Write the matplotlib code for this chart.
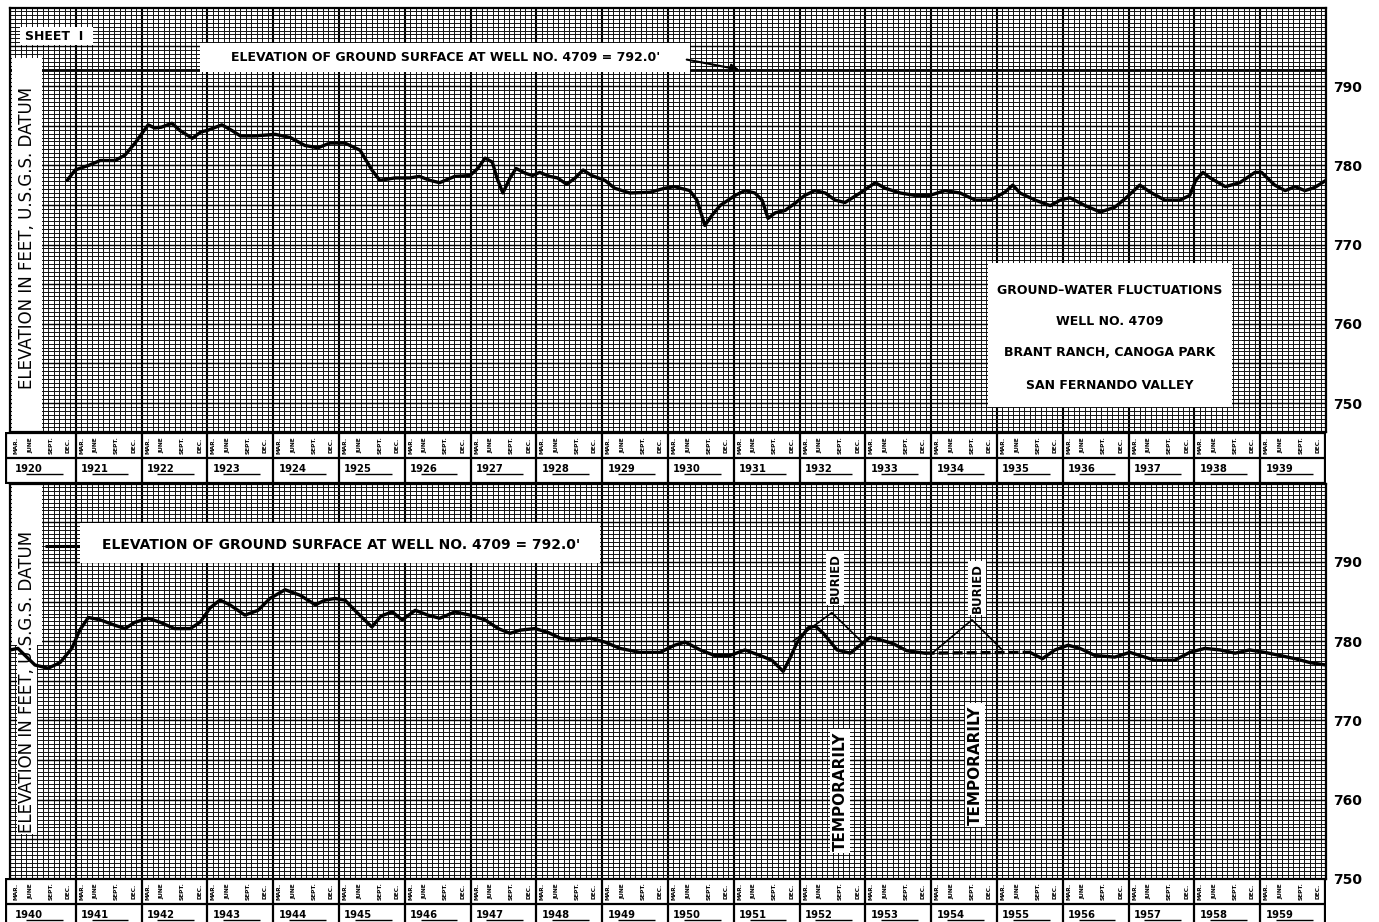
import matplotlib
matplotlib.use("Agg")
import matplotlib.pyplot as plt
from matplotlib.patches import Rectangle
from matplotlib.ticker import MultipleLocator, FuncFormatter

# ---- Well No. 4709 water levels, elevation in feet (U.S.G.S. datum) ----
years_1920s = [1920.87, 1920.99, 1921.2, 1921.37, 1921.6, 1921.75, 1921.9, 1922.1, 1922.2, 1922.3,
               1922.46, 1922.58, 1922.77, 1922.9, 1923.0, 1923.22, 1923.37, 1923.5, 1923.72, 1924.03,
               1924.26, 1924.48, 1924.68, 1924.86, 1925.09, 1925.32, 1925.5, 1925.62, 1925.85, 1926.08,
               1926.22, 1926.38, 1926.53, 1926.76, 1926.99, 1927.11, 1927.22, 1927.33, 1927.4, 1927.49,
               1927.6, 1927.69, 1927.83, 1927.94, 1928.05, 1928.2, 1928.32, 1928.46, 1928.59, 1928.71,
               1928.84, 1929.04, 1929.19, 1929.42, 1929.73, 1929.95, 1930.1, 1930.33, 1930.44, 1930.56,
               1930.67, 1930.79, 1931.02, 1931.17, 1931.32, 1931.43, 1931.52, 1931.63, 1931.78, 1931.93,
               1932.08, 1932.23, 1932.39, 1932.54, 1932.69, 1932.92, 1933.15, 1933.3, 1933.53, 1933.75,
               1933.98, 1934.21, 1934.44, 1934.67, 1934.9, 1935.12, 1935.24, 1935.35, 1935.58, 1935.81,
               1935.96, 1936.11, 1936.34, 1936.57, 1936.79, 1936.95, 1937.17, 1937.33, 1937.55, 1937.78,
               1937.93, 1938.02, 1938.13, 1938.24, 1938.47, 1938.69, 1938.92, 1939.02, 1939.22, 1939.38,
               1939.53, 1939.68, 1939.83, 1940.0]
elev_1920s = [778.1, 779.4, 780.0, 780.6, 780.6, 781.3, 782.8, 785.1, 784.7, 784.8,
              785.3, 784.4, 783.4, 784.2, 784.4, 785.1, 784.4, 783.7, 783.7, 783.9,
              783.5, 782.5, 782.2, 782.8, 782.8, 781.9, 779.4, 778.1, 778.4, 778.4,
              778.6, 778.1, 777.8, 778.6, 778.7, 779.6, 780.9, 780.4, 778.4, 776.5,
              778.4, 779.6, 779.0, 778.7, 779.1, 778.6, 778.4, 777.6, 778.4, 779.4,
              778.7, 778.1, 777.1, 776.5, 776.6, 777.1, 777.3, 776.8, 775.6, 772.4,
              773.7, 774.9, 776.2, 776.8, 776.5, 775.6, 773.3, 774.0, 774.3, 775.2,
              776.2, 776.8, 776.5, 775.6, 775.3, 776.5, 777.8, 777.1, 776.5, 776.2,
              776.2, 776.8, 776.5, 775.6, 775.6, 776.6, 777.5, 776.5, 775.6, 774.9,
              775.6, 775.9, 774.9, 774.1, 774.7, 775.8, 777.5, 776.6, 775.6, 775.6,
              776.2, 778.1, 779.1, 778.4, 777.3, 777.8, 779.1, 779.1, 777.5, 776.8,
              777.3, 776.8, 777.2, 778.1]

years_1940s = [1940.0, 1940.12, 1940.23, 1940.38, 1940.58, 1940.76, 1940.94, 1941.06, 1941.19, 1941.37,
               1941.6, 1941.75, 1941.9, 1942.1, 1942.28, 1942.5, 1942.74, 1942.89, 1943.04, 1943.19,
               1943.34, 1943.57, 1943.77, 1943.95, 1944.18, 1944.41, 1944.64, 1944.79, 1944.94, 1945.09,
               1945.24, 1945.5, 1945.64, 1945.81, 1945.96, 1946.16, 1946.35, 1946.53, 1946.76, 1946.99,
               1947.22, 1947.42, 1947.6, 1947.75, 1947.98, 1948.18, 1948.36, 1948.59, 1948.81, 1949.04,
               1949.27, 1949.57, 1949.88, 1950.1, 1950.26, 1950.49, 1950.71, 1950.94, 1951.17, 1951.4,
               1951.58, 1951.75, 1951.85, 1951.96, 1952.13, 1952.24, 1952.36, 1952.57, 1952.77, 1952.92,
               1953.07, 1953.22, 1953.42, 1953.63, 1953.9]
elev_1940s = [778.9, 779.1, 778.2, 777.0, 776.6, 777.3, 779.1, 781.4, 783.0, 782.7,
              782.0, 781.6, 782.4, 782.9, 782.4, 781.6, 781.6, 782.4, 784.2, 785.2,
              784.6, 783.3, 783.9, 785.4, 786.5, 785.8, 784.6, 785.2, 785.4, 785.2,
              783.9, 781.8, 783.2, 783.7, 782.7, 783.9, 783.3, 782.9, 783.7, 783.3,
              782.7, 781.6, 781.0, 781.4, 781.6, 781.1, 780.4, 780.1, 780.4, 779.9,
              779.1, 778.6, 778.6, 779.5, 779.9, 778.9, 778.2, 778.2, 778.9, 778.2,
              777.6, 776.2, 777.8, 779.8, 781.7, 781.9, 781.0, 778.9, 778.5, 779.5,
              780.5, 780.2, 779.7, 778.8, 778.5]

years_1950s = [1955.5, 1955.69, 1955.88, 1956.08, 1956.26, 1956.49, 1956.79, 1957.02, 1957.17, 1957.4,
               1957.7, 1957.93, 1958.16, 1958.39, 1958.62, 1958.84, 1959.07, 1959.3, 1959.53, 1959.76,
               1960.0]
elev_1950s = [778.6, 777.8, 778.9, 779.5, 779.1, 778.2, 778.0, 778.6, 778.2, 777.6,
              777.6, 778.6, 779.1, 778.9, 778.5, 778.9, 778.6, 778.2, 777.8, 777.3,
              777.0]

# well temporarily buried: estimated level and the two buried episodes
buried_years = [1953.9, 1955.5]
buried_elev = [778.5, 778.6]
episode1_years = [1951.9, 1952.49, 1952.95]
episode1_elev = [780.0, 783.6, 779.9]
episode2_years = [1954.03, 1954.62, 1955.08]
episode2_elev = [778.6, 782.7, 778.9]

ground_surface = 792.0
labelled_elevations = [750, 760, 770, 780, 790]
month_labels = ["MAR.", "JUNE", "SEPT.", "DEC."]
title_lines = ["GROUND\u2013WATER FLUCTUATIONS", "WELL NO. 4709",
               "BRANT RANCH, CANOGA PARK", "SAN FERNANDO VALLEY"]
surface_note = "ELEVATION OF GROUND SURFACE AT WELL NO. 4709 = 792.0'"
axis_title = "ELEVATION IN FEET, U.S.G.S. DATUM"

# ---- layout (pixels) ----
W, H, DPI = 1379, 922, 100
PX_PER_YEAR = 65.8
PX_PER_FT = 7.925
TOP = (10, 8, 1326, 432)
BOT = (10, 484, 1326, 879.4)

plt.rcParams['font.family'] = ['DejaVu Sans']
fig = plt.figure(figsize=(W / DPI, H / DPI), dpi=DPI)
fig.patch.set_facecolor('white')


def fig_rect(x0, y0, x1, y1):
    return [x0 / W, 1 - y1 / H, (x1 - x0) / W, (y1 - y0) / H]


def afrac(rect, px, py):
    return ((px - rect[0]) / (rect[2] - rect[0]), (rect[3] - py) / (rect[3] - rect[1]))


def white_box(ax, rect, x0, y0, x1, y1, z=2.2):
    fx0, fy1 = afrac(rect, x0, y1)
    fx1, fy0 = afrac(rect, x1, y0)
    ax.add_patch(Rectangle((fx0, fy1), fx1 - fx0, fy0 - fy1, transform=ax.transAxes,
                           facecolor='white', edgecolor='none', zorder=z, clip_on=False))


def put_text(ax, rect, px, py, s, **kw):
    fx, fy = afrac(rect, px, py)
    kw.setdefault('ha', 'center')
    kw.setdefault('va', 'center')
    kw.setdefault('zorder', 5)
    ax.text(fx, fy, s, transform=ax.transAxes, **kw)


def elev_fmt(v, pos):
    return f"{v:.0f}" if round(v) in labelled_elevations and abs(v - round(v)) < 1e-6 else ""


def panel(rect, first_year, ylim):
    ax = fig.add_axes(fig_rect(*rect))
    ax.set_xlim(first_year, first_year + 20)
    ax.set_ylim(*ylim)
    ax.set_facecolor('white')
    ax.xaxis.set_major_locator(MultipleLocator(1))
    ax.xaxis.set_minor_locator(MultipleLocator(1 / 12))
    ax.yaxis.set_major_locator(MultipleLocator(5))
    ax.yaxis.set_minor_locator(MultipleLocator(0.5))
    ax.yaxis.set_major_formatter(FuncFormatter(elev_fmt))
    ax.grid(which='minor', color='#111111', lw=0.7)
    ax.xaxis.grid(which='major', color='black', lw=1.5)
    ax.yaxis.grid(which='major', color='black', lw=1.0)
    ax.tick_params(axis='x', which='both', length=0, labelbottom=False)
    ax.tick_params(axis='y', which='both', length=0, labelleft=False, labelright=True, pad=5)
    for lab in ax.get_yticklabels():
        lab.set_fontweight('bold')
        lab.set_fontsize(10)
    for sp in ax.spines.values():
        sp.set_linewidth(1.6)
    return ax


def strip(y0, first_year):
    off = 5 / PX_PER_YEAR
    sx = fig.add_axes(fig_rect(5, y0, 1326, y0 + 52))
    sx.set_xlim(first_year - off, first_year + 20)
    sx.set_ylim(0, 1)
    sx.axis('off')
    sx.add_patch(Rectangle((first_year - off, 0), 20 + off, 1, facecolor='white',
                           edgecolor='none', zorder=0))
    sx.hlines([0.985, 0.5, 0.02], first_year - off, first_year + 20, color='black', lw=1.6)
    yrs = list(range(first_year, first_year + 20))
    sx.vlines([first_year - off + 0.02] + yrs[1:] + [first_year + 20 - 0.01], 0, 1,
              color='black', lw=1.6)
    fracs = [0.09, 0.31, 0.62, 0.88]
    for yr in yrs:
        for f, m in zip(fracs, month_labels):
            sx.text(yr + f, 0.75, m, rotation=90, ha='center', va='center',
                    fontsize=4.2, fontweight='bold')
        sx.text(yr + 0.08, 0.23, str(yr), ha='left', va='baseline', fontsize=7.2,
                fontweight='bold')
        sx.hlines(0.2, yr + 0.24, yr + 0.8, color='black', lw=1.0)
    return sx


# ---- upper sheet: 1920-1939 ----
top_ylim = (790 - (TOP[3] - 86) / PX_PER_FT, 790 + (86 - TOP[1]) / PX_PER_FT)
ax1 = panel(TOP, 1920, top_ylim)
ax1.axhline(ground_surface, color='black', lw=2.0, zorder=1.8)
ax1.plot(years_1920s, elev_1920s, color='black', lw=2.4, solid_joinstyle='round',
         solid_capstyle='round', zorder=3)

white_box(ax1, TOP, 12, 58, 42, TOP[3])
put_text(ax1, TOP, 27, 238, axis_title, rotation=90, fontsize=12)
white_box(ax1, TOP, 20, 27, 93, 45)
put_text(ax1, TOP, 25, 36, "SHEET  I", ha='left', fontsize=9, fontweight='bold')
white_box(ax1, TOP, 200, 43, 690, 72)
put_text(ax1, TOP, 446, 57, surface_note, fontsize=9, fontweight='bold')
ax1.annotate('', xy=(1920 + (742 - TOP[0]) / PX_PER_YEAR, ground_surface),
             xytext=(1920 + (684 - TOP[0]) / PX_PER_YEAR, 793.4),
             arrowprops=dict(arrowstyle='-|>', color='black', lw=1.5, mutation_scale=12),
             zorder=4)
white_box(ax1, TOP, 988, 263, 1232, 407)
for yy, line in zip([290, 321, 352, 385], title_lines):
    put_text(ax1, TOP, 1110, yy, line, fontsize=9, fontweight='bold')

strip(432, 1920)

# ---- lower sheet: 1940-1959 ----
bot_ylim = (790 - (BOT[3] - 562) / PX_PER_FT, 790 + (562 - BOT[1]) / PX_PER_FT)
ax2 = panel(BOT, 1940, bot_ylim)
white_box(ax2, BOT, 12, BOT[1], 42, 645)
put_text(ax2, BOT, 27, 682, axis_title, rotation=90, fontsize=12,
         bbox=dict(facecolor='white', edgecolor='none', pad=1.0), zorder=2.4)
ax2.hlines(ground_surface, 1940 + 35 / PX_PER_YEAR, 1942.0, color='black', lw=2.2, zorder=1.8)
white_box(ax2, BOT, 80, 523, 600, 563)
put_text(ax2, BOT, 341, 545, surface_note, fontsize=10, fontweight='bold')

ax2.plot(years_1940s, elev_1940s, color='black', lw=2.4, solid_joinstyle='round',
         solid_capstyle='round', zorder=3)
ax2.plot(years_1950s, elev_1950s, color='black', lw=2.4, solid_joinstyle='round',
         solid_capstyle='round', zorder=3)
ax2.plot(buried_years, buried_elev, color='black', lw=2.4, ls=(0, (3, 1.2)), zorder=3)
ax2.plot(episode1_years, episode1_elev, color='black', lw=1.2, zorder=3)
ax2.plot(episode2_years, episode2_elev, color='black', lw=1.2, zorder=3)

box = dict(facecolor='white', edgecolor='none', pad=1.5)
put_text(ax2, BOT, 835, 578, "BURIED", rotation=90, fontsize=8.5, fontweight='bold', bbox=box)
put_text(ax2, BOT, 977, 588, "BURIED", rotation=90, fontsize=8.5, fontweight='bold', bbox=box)
put_text(ax2, BOT, 840, 791, "TEMPORARILY", rotation=90, fontsize=11, fontweight='bold', bbox=box)
put_text(ax2, BOT, 975, 765, "TEMPORARILY", rotation=90, fontsize=11, fontweight='bold', bbox=box)

strip(878, 1940)

fig.savefig("out.png", dpi=DPI, facecolor='white')
